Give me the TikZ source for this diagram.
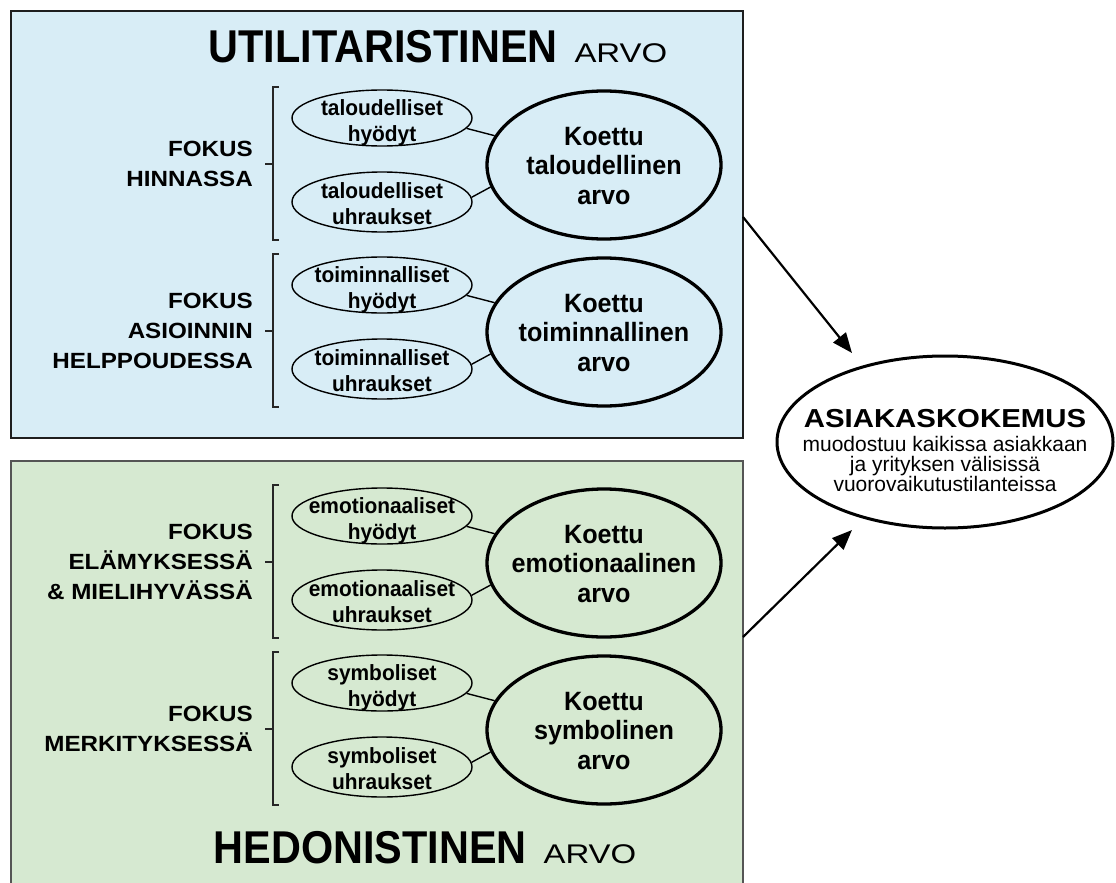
\documentclass[tikz,border=0pt]{standalone}
\usepackage{fontspec}
\setmainfont{Liberation Sans}
\newfontfamily\condfont{Liberation Sans}[FakeStretch=0.9]
\newfontfamily\arvofont{Liberation Sans}[FakeStretch=1.22]
\newfontfamily\lblfont{Liberation Sans}[FakeStretch=1.1]
\newfontfamily\expfont{Liberation Sans}[FakeStretch=1.13]
\newfontfamily\ellfont{Liberation Sans}[FakeStretch=0.95]
\usetikzlibrary{shapes.geometric,arrows.meta}
\definecolor{topfill}{HTML}{D8EDF6}
\definecolor{botfill}{HTML}{D6E9D1}
\definecolor{topline}{HTML}{1E1E1E}
\definecolor{botline}{HTML}{555555}
\tikzset{
  valbox/.style={rectangle, inner sep=0pt, outer sep=0pt, anchor=north west, line width=2.5pt},
  lbl/.style={anchor=east, align=right, inner sep=0pt, font=\lblfont\bfseries\fontsize{22}{30}\selectfont},
  brk/.style={line width=1.3pt, draw=black!85},
  sell/.style={ellipse, draw=black, line width=1.4pt, minimum width=180pt, inner sep=0pt},
  stxt/.style={align=center, inner sep=0pt, font=\ellfont\bfseries\fontsize{22}{26}\selectfont},
  bell/.style={ellipse, draw=black, line width=3.3pt, minimum width=234pt, minimum height=148pt, inner sep=0pt},
  btxt/.style={align=center, inner sep=0pt, font=\ellfont\bfseries\fontsize{26.5}{29.5}\selectfont},
  conn/.style={line width=1.4pt},
  arr/.style={line width=2.2pt, -{Triangle[length=20pt,width=16pt]}},
  ttl/.style={anchor=base, inner sep=0pt},
  expline/.style={anchor=base, inner sep=0pt, font=\fontsize{21}{21}\selectfont}
}
\newcommand{\vgroup}[6]{%
  \node[lbl] (#1l) at (253,#2) {#3};
  \draw[brk] (279,#2-77) -- (273,#2-77) -- (273,#2+76) -- (279,#2+76);
  \draw[brk] (265,#2) -- (273,#2);
  \node[sell, minimum height=56pt] (#1a) at (382,#2-46) {};
  \node[stxt] (#1at) at (382,#2-41) {#4};
  \node[sell, minimum height=60pt] (#1b) at (382,#2+38) {};
  \node[stxt] (#1bt) at (382,#2+40) {#5};
  \node[bell] (#1c) at (604,#2+1) {};
  \node[btxt] (#1ct) at (604,#2+2) {#6};
  \draw[conn] (#1a.-7) -- (#1c.165);
  \draw[conn] (#1b.3) -- (#1c.191);
}
\begin{document}
\begin{tikzpicture}[x=1pt,y=-1pt]
\useasboundingbox (0,0) rectangle (1116,883);
\fill[white] (0,0) rectangle (1116,883);
% boxes
\node[valbox, draw=topline, fill=topfill, minimum width=732pt, minimum height=427pt] (utilbox) at (11,11) {};
\node[valbox, draw=botline, fill=botfill, minimum width=732pt, minimum height=440pt] (hedbox) at (11,461) {};
% titles
\node[ttl] (utiltitle) at (438,63) {{\condfont\bfseries\fontsize{46}{46}\selectfont UTILITARISTINEN}\hspace{17pt}{\arvofont\fontsize{27}{27}\selectfont ARVO}};
\node[ttl] (hedtitle) at (425,863) {{\condfont\bfseries\fontsize{46}{46}\selectfont HEDONISTINEN}\hspace{17pt}{\arvofont\fontsize{27}{27}\selectfont ARVO}};
% groups
\vgroup{g1}{164}{FOKUS\\HINNASSA}{taloudelliset\\hyödyt}{taloudelliset\\uhraukset}{Koettu\\taloudellinen\\arvo}
\vgroup{g2}{331}{FOKUS\\ASIOINNIN\\HELPPOUDESSA}{toiminnalliset\\hyödyt}{toiminnalliset\\uhraukset}{Koettu\\toiminnallinen\\arvo}
\vgroup{g3}{562}{FOKUS\\ELÄMYKSESSÄ\\\& MIELIHYVÄSSÄ}{emotionaaliset\\hyödyt}{emotionaaliset\\uhraukset}{Koettu\\emotionaalinen\\arvo}
\vgroup{g4}{729}{FOKUS\\MERKITYKSESSÄ}{symboliset\\hyödyt}{symboliset\\uhraukset}{Koettu\\symbolinen\\arvo}
% customer experience
\node[ellipse, draw=black, line width=3pt, fill=white, minimum width=336pt, minimum height=172pt, inner sep=0pt] (exp) at (945,442) {};
\node[anchor=base, inner sep=0pt, font=\expfont\bfseries\fontsize{26}{26}\selectfont] (expt) at (945,427) {ASIAKASKOKEMUS};
\node[expline] (exp1) at (945,451) {muodostuu kaikissa asiakkaan};
\node[expline] (exp2) at (945,471) {ja yrityksen välisissä};
\node[expline] (exp3) at (945,491) {vuorovaikutustilanteissa};
% arrows
\coordinate (a1) at (743,217);
\coordinate (t1) at (852,353);
\coordinate (a2) at (743,637);
\coordinate (t2) at (852,530);
\draw[arr] (a1) -- (t1);
\draw[arr] (a2) -- (t2);
\end{tikzpicture}
\end{document}
